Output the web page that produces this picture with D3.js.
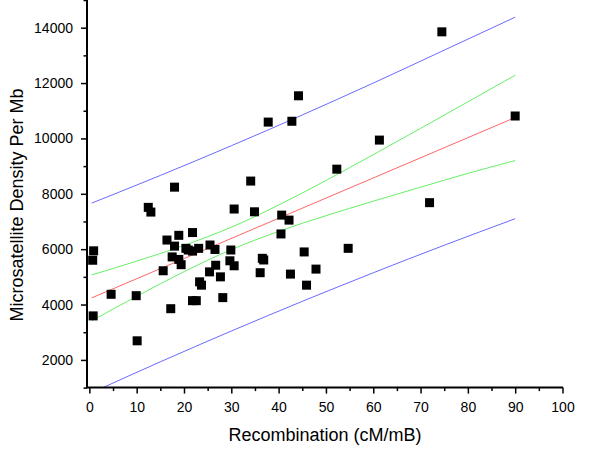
<!DOCTYPE html>
<html>
<head>
<meta charset="utf-8">
<script src="https://cdn.jsdelivr.net/npm/d3@7"></script>
<style>
  html, body { margin: 0; padding: 0; background: #fff; }
  svg { display: block; }
  text { font-family: "Liberation Sans", Arial, sans-serif; fill: #000; }
</style>
</head>
<body>
<svg id="chart" width="600" height="450"></svg>
<script>
// ---- data ----
const recombination = [0.7, 0.9, 0.8, 4.6, 9.9, 10.1, 15.6, 16.4, 17.2, 17.5, 18.0, 18.9, 18.9, 19.4,
  21.8, 20.4, 20.9, 21.8, 23.1, 21.8, 22.6, 23.3, 23.7, 25.5, 25.4, 26.55, 26.7, 27.7, 28.2,
  29.7, 29.9, 30.6, 36.1, 36.55, 36.85, 40.5, 42.5, 45.4, 54.7, 47.9, 45.9, 12.45, 13.0, 18.0,
  30.6, 34.1, 34.9, 37.8, 42.8, 40.65, 42.2, 44.2, 74.5, 90.0, 61.3, 52.3, 71.9];
const density = [5600, 5940, 3590, 4370, 4320, 2690, 5220, 6330, 3850, 5720, 6110, 6500, 5630, 5440,
  6600, 6030, 5970, 5930, 6030, 4140, 4140, 4820, 4700, 6150, 5180, 5990, 5420, 5000, 4250,
  5580, 5970, 5400, 5150, 5670, 5610, 6550, 5100, 5900, 6030, 5280, 4700, 7510, 7340, 8240,
  7450, 8460, 7350, 10590, 10620, 7230, 7050, 11540, 13850, 10810, 9940, 8890, 7680];

// fit line and bands, sampled along x
const fitX = [0.5, 90];
const fitY = [4241, 10756];
const bandX = [0.5, 10, 20, 30, 40, 50, 60, 70, 80, 90];
const confUpper = [5070, 5569, 6135, 6794, 7591, 8481, 9413, 10363, 11321, 12283];
const confLower = [3412, 4297, 5187, 5984, 6643, 7209, 7733, 8239, 8737, 9200];
const predX = [0.5, 15, 30, 45, 60, 75, 90];
const predUpper = [7664, 8663, 9735, 10847, 11999, 13188, 14380];
const predLower = [818, 1931, 3043, 4115, 5147, 6142, 7100];

const xTicks = [0, 10, 20, 30, 40, 50, 60, 70, 80, 90, 100];
const xMinorTicks = [5, 15, 25, 35, 45, 55, 65, 75, 85, 95];
const yTicks = [2000, 4000, 6000, 8000, 10000, 12000, 14000];
const yMinorTicks = [1000, 3000, 5000, 7000, 9000, 11000, 13000, 15000];

const xTitle = "Recombination (cM/mB)";
const yTitle = "Microsatellite Density Per Mb";

// ---- drawing ----
const svg = d3.select("#chart");
const x = d3.scaleLinear().domain([-0.5, 100]).range([87, 562.5]);
const y = d3.scaleLinear().domain([1000, 15000]).range([387.6, 0]);

svg.append("defs").append("clipPath").attr("id", "plotclip")
  .append("rect")
  .attr("x", x.range()[0]).attr("y", y.range()[1])
  .attr("width", x.range()[1] - x.range()[0])
  .attr("height", y.range()[0] - y.range()[1]);

const plot = svg.append("g").attr("clip-path", "url(#plotclip)");

const line = d3.line().x(d => x(d[0])).y(d => y(d[1])).curve(d3.curveMonotoneX);
const series = [
  { xs: predX, ys: predUpper, color: "#6a6aff" },
  { xs: predX, ys: predLower, color: "#6a6aff" },
  { xs: bandX, ys: confUpper, color: "#66f066" },
  { xs: bandX, ys: confLower, color: "#66f066" },
  { xs: fitX, ys: fitY, color: "#ff6666" }
];
series.forEach(s => {
  plot.append("path")
    .datum(s.xs.map((v, i) => [v, s.ys[i]]))
    .attr("d", line)
    .attr("fill", "none")
    .attr("stroke", s.color)
    .attr("stroke-width", 1);
});

const pts = recombination.map((v, i) => [v, density[i]]);
const sz = 9;
svg.append("g").selectAll("rect").data(pts).join("rect")
  .attr("x", d => x(d[0]) - sz / 2)
  .attr("y", d => y(d[1]) - sz / 2)
  .attr("width", sz).attr("height", sz)
  .attr("fill", "#000");

// axes
const y0 = y.range()[0];
const x0 = x.range()[0];

const gx = svg.append("g").attr("transform", `translate(0,${y0})`);
gx.call(d3.axisBottom(x).tickValues(xTicks).tickSize(6).tickSizeOuter(0).tickPadding(8).tickFormat(d3.format("d")));
const gxm = svg.append("g").attr("transform", `translate(0,${y0})`);
gxm.call(d3.axisBottom(x).tickValues(xMinorTicks).tickSize(3.5).tickSizeOuter(0).tickFormat(""));

const gy = svg.append("g").attr("transform", `translate(${x0},0)`);
gy.call(d3.axisLeft(y).tickValues(yTicks).tickSize(6).tickSizeOuter(0).tickPadding(8).tickFormat(d3.format("d")));
const gym = svg.append("g").attr("transform", `translate(${x0},0)`);
gym.call(d3.axisLeft(y).tickValues(yMinorTicks).tickSize(3.5).tickSizeOuter(0).tickFormat(""));

[gx, gxm, gy, gym].forEach(g => {
  g.select(".domain").remove();
  g.selectAll(".tick line").attr("stroke", "#000").attr("stroke-width", 1.5);
  g.selectAll(".tick text")
    .attr("font-family", "Liberation Sans, Arial, sans-serif")
    .attr("font-size", 14).attr("fill", "#000");
});

svg.append("line")
  .attr("x1", x0).attr("x2", x0)
  .attr("y1", y.range()[1]).attr("y2", y0 + 0.5)
  .attr("stroke", "#000").attr("stroke-width", 2);
svg.append("line")
  .attr("x1", x0 - 1).attr("x2", x.range()[1] + 0.5)
  .attr("y1", y0).attr("y2", y0)
  .attr("stroke", "#000").attr("stroke-width", 2);

// titles
svg.append("text")
  .attr("x", 325).attr("y", 441)
  .attr("text-anchor", "middle")
  .attr("font-size", 18)
  .text(xTitle);
svg.append("text")
  .attr("transform", "translate(23,205) rotate(-90)")
  .attr("text-anchor", "middle")
  .attr("font-size", 18)
  .text(yTitle);
</script>
</body>
</html>
